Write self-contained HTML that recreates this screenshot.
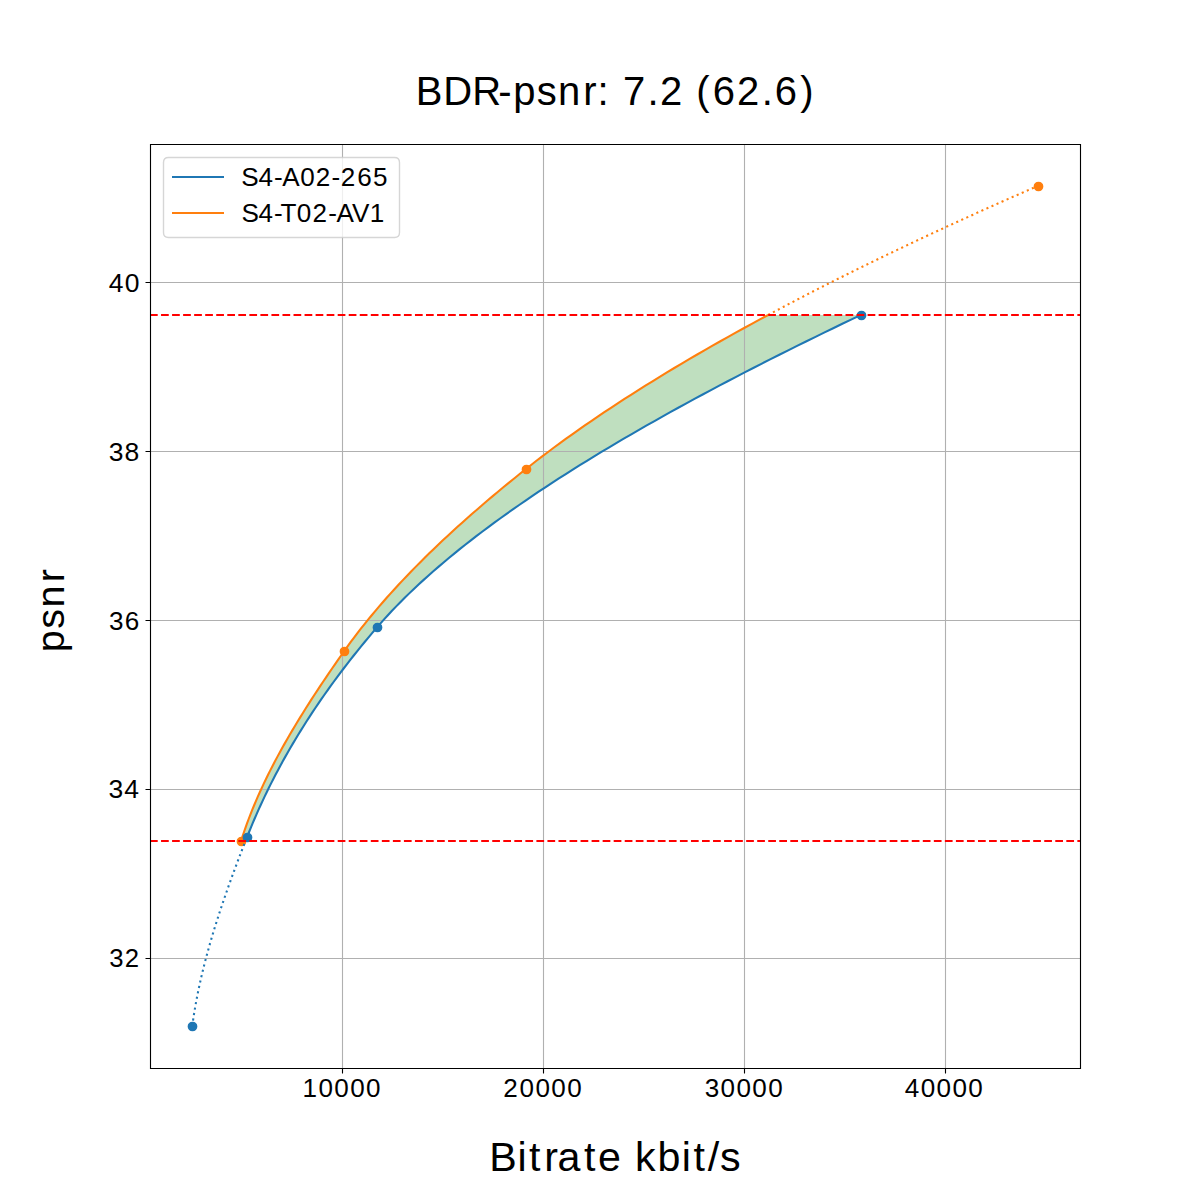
<!DOCTYPE html>
<html><head><meta charset="utf-8"><title>BDR-psnr</title><style>html,body{margin:0;padding:0;background:#fff;width:1200px;height:1200px;overflow:hidden}svg{display:block}text{font-family:"Liberation Sans",sans-serif;fill:#000}</style></head><body>
<svg width="1200" height="1200" viewBox="0 0 1200 1200">
<defs><clipPath id="ax"><rect x="150" y="144" width="930" height="924"/></clipPath></defs>
<rect x="0" y="0" width="1200" height="1200" fill="#fff"/>
<g clip-path="url(#ax)">
<path d="M245.57 840.84 L247.3 836.42 L249.06 832.01 L250.86 827.59 L252.7 823.17 L254.58 818.75 L256.5 814.33 L258.46 809.91 L260.46 805.49 L262.51 801.07 L264.59 796.65 L266.72 792.23 L268.88 787.81 L271.09 783.4 L273.34 778.98 L275.63 774.56 L277.97 770.14 L280.34 765.72 L282.76 761.3 L285.22 756.88 L287.73 752.46 L290.27 748.04 L292.86 743.62 L295.49 739.2 L298.17 734.79 L300.89 730.37 L303.65 725.95 L306.46 721.53 L309.31 717.11 L312.21 712.69 L315.15 708.27 L318.13 703.85 L321.16 699.43 L324.24 695.01 L327.36 690.59 L330.52 686.18 L333.73 681.76 L336.99 677.34 L340.29 672.92 L343.64 668.5 L347.03 664.08 L350.47 659.66 L353.95 655.24 L357.49 650.82 L361.07 646.4 L364.69 641.98 L368.36 637.56 L372.08 633.15 L375.85 628.73 L379.68 624.31 L383.6 619.89 L387.63 615.47 L391.75 611.05 L395.98 606.63 L400.3 602.21 L404.73 597.79 L409.25 593.37 L413.87 588.95 L418.58 584.54 L423.39 580.12 L428.3 575.7 L433.3 571.28 L438.4 566.86 L443.58 562.44 L448.86 558.02 L454.23 553.6 L459.7 549.18 L465.25 544.76 L470.89 540.34 L476.62 535.93 L482.44 531.51 L488.35 527.09 L494.34 522.67 L500.42 518.25 L506.58 513.83 L512.83 509.41 L519.16 504.99 L525.58 500.57 L532.07 496.15 L538.65 491.73 L545.32 487.31 L552.06 482.9 L558.88 478.48 L565.78 474.06 L572.75 469.64 L579.81 465.22 L586.94 460.8 L594.15 456.38 L601.44 451.96 L608.79 447.54 L616.23 443.12 L623.73 438.7 L631.31 434.29 L638.96 429.87 L646.69 425.45 L654.48 421.03 L662.34 416.61 L670.27 412.19 L678.27 407.77 L686.34 403.35 L694.47 398.93 L702.68 394.51 L710.94 390.09 L719.27 385.68 L727.67 381.26 L736.13 376.84 L744.65 372.42 L753.24 368 L761.88 363.58 L770.59 359.16 L779.36 354.74 L788.18 350.32 L797.07 345.9 L806.01 341.48 L815.01 337.06 L824.06 332.65 L833.18 328.23 L842.34 323.81 L851.57 319.39 L860.84 314.97 L768.14 314.97 L759.92 319.39 L751.77 323.81 L743.69 328.23 L735.69 332.65 L727.76 337.06 L719.9 341.48 L712.11 345.9 L704.4 350.32 L696.76 354.74 L689.19 359.16 L681.7 363.58 L674.28 368 L666.94 372.42 L659.68 376.84 L652.49 381.26 L645.37 385.68 L638.34 390.09 L631.38 394.51 L624.49 398.93 L617.69 403.35 L610.96 407.77 L604.31 412.19 L597.74 416.61 L591.25 421.03 L584.84 425.45 L578.51 429.87 L572.26 434.29 L566.08 438.7 L559.99 443.12 L553.98 447.54 L548.06 451.96 L542.21 456.38 L536.45 460.8 L530.77 465.22 L525.17 469.64 L519.63 474.06 L514.15 478.48 L508.71 482.9 L503.32 487.31 L497.99 491.73 L492.71 496.15 L487.48 500.57 L482.3 504.99 L477.18 509.41 L472.11 513.83 L467.09 518.25 L462.13 522.67 L457.23 527.09 L452.38 531.51 L447.59 535.93 L442.85 540.34 L438.17 544.76 L433.55 549.18 L428.99 553.6 L424.49 558.02 L420.05 562.44 L415.66 566.86 L411.34 571.28 L407.08 575.7 L402.87 580.12 L398.73 584.54 L394.66 588.95 L390.64 593.37 L386.69 597.79 L382.8 602.21 L378.98 606.63 L375.22 611.05 L371.53 615.47 L367.9 619.89 L364.34 624.31 L360.85 628.73 L357.42 633.15 L354.06 637.56 L350.77 641.98 L347.55 646.4 L344.39 650.82 L341.29 655.24 L338.2 659.66 L335.13 664.08 L332.09 668.5 L329.07 672.92 L326.07 677.34 L323.09 681.76 L320.15 686.18 L317.23 690.59 L314.33 695.01 L311.47 699.43 L308.64 703.85 L305.83 708.27 L303.06 712.69 L300.32 717.11 L297.62 721.53 L294.95 725.95 L292.32 730.37 L289.72 734.79 L287.16 739.2 L284.64 743.62 L282.16 748.04 L279.73 752.46 L277.33 756.88 L274.98 761.3 L272.67 765.72 L270.4 770.14 L268.19 774.56 L266.01 778.98 L263.89 783.4 L261.82 787.81 L259.8 792.23 L257.82 796.65 L255.9 801.07 L254.04 805.49 L252.22 809.91 L250.47 814.33 L248.77 818.75 L247.12 823.17 L245.54 827.59 L244.01 832.01 L242.55 836.42 L241.14 840.84 Z" fill="#008000" fill-opacity="0.25"/>
<path d="M342.5 144V1068 M543.5 144V1068 M744.5 144V1068 M945.5 144V1068 M150 958.5H1080 M150 789.5H1080 M150 620.5H1080 M150 451.5H1080 M150 282.5H1080" stroke="#b0b0b0" stroke-width="1.11" fill="none"/>
<path d="M245.57 840.84 L247.3 836.42 L249.06 832.01 L250.86 827.59 L252.7 823.17 L254.58 818.75 L256.5 814.33 L258.46 809.91 L260.46 805.49 L262.51 801.07 L264.59 796.65 L266.72 792.23 L268.88 787.81 L271.09 783.4 L273.34 778.98 L275.63 774.56 L277.97 770.14 L280.34 765.72 L282.76 761.3 L285.22 756.88 L287.73 752.46 L290.27 748.04 L292.86 743.62 L295.49 739.2 L298.17 734.79 L300.89 730.37 L303.65 725.95 L306.46 721.53 L309.31 717.11 L312.21 712.69 L315.15 708.27 L318.13 703.85 L321.16 699.43 L324.24 695.01 L327.36 690.59 L330.52 686.18 L333.73 681.76 L336.99 677.34 L340.29 672.92 L343.64 668.5 L347.03 664.08 L350.47 659.66 L353.95 655.24 L357.49 650.82 L361.07 646.4 L364.69 641.98 L368.36 637.56 L372.08 633.15 L375.85 628.73 L379.68 624.31 L383.6 619.89 L387.63 615.47 L391.75 611.05 L395.98 606.63 L400.3 602.21 L404.73 597.79 L409.25 593.37 L413.87 588.95 L418.58 584.54 L423.39 580.12 L428.3 575.7 L433.3 571.28 L438.4 566.86 L443.58 562.44 L448.86 558.02 L454.23 553.6 L459.7 549.18 L465.25 544.76 L470.89 540.34 L476.62 535.93 L482.44 531.51 L488.35 527.09 L494.34 522.67 L500.42 518.25 L506.58 513.83 L512.83 509.41 L519.16 504.99 L525.58 500.57 L532.07 496.15 L538.65 491.73 L545.32 487.31 L552.06 482.9 L558.88 478.48 L565.78 474.06 L572.75 469.64 L579.81 465.22 L586.94 460.8 L594.15 456.38 L601.44 451.96 L608.79 447.54 L616.23 443.12 L623.73 438.7 L631.31 434.29 L638.96 429.87 L646.69 425.45 L654.48 421.03 L662.34 416.61 L670.27 412.19 L678.27 407.77 L686.34 403.35 L694.47 398.93 L702.68 394.51 L710.94 390.09 L719.27 385.68 L727.67 381.26 L736.13 376.84 L744.65 372.42 L753.24 368 L761.88 363.58 L770.59 359.16 L779.36 354.74 L788.18 350.32 L797.07 345.9 L806.01 341.48 L815.01 337.06 L824.06 332.65 L833.18 328.23 L842.34 323.81 L851.57 319.39 L860.84 314.97" stroke="#1f77b4" stroke-width="2.08" fill="none" stroke-linejoin="round"/>
<path d="M241.14 840.84 L242.55 836.42 L244.01 832.01 L245.54 827.59 L247.12 823.17 L248.77 818.75 L250.47 814.33 L252.22 809.91 L254.04 805.49 L255.9 801.07 L257.82 796.65 L259.8 792.23 L261.82 787.81 L263.89 783.4 L266.01 778.98 L268.19 774.56 L270.4 770.14 L272.67 765.72 L274.98 761.3 L277.33 756.88 L279.73 752.46 L282.16 748.04 L284.64 743.62 L287.16 739.2 L289.72 734.79 L292.32 730.37 L294.95 725.95 L297.62 721.53 L300.32 717.11 L303.06 712.69 L305.83 708.27 L308.64 703.85 L311.47 699.43 L314.33 695.01 L317.23 690.59 L320.15 686.18 L323.09 681.76 L326.07 677.34 L329.07 672.92 L332.09 668.5 L335.13 664.08 L338.2 659.66 L341.29 655.24 L344.39 650.82 L347.55 646.4 L350.77 641.98 L354.06 637.56 L357.42 633.15 L360.85 628.73 L364.34 624.31 L367.9 619.89 L371.53 615.47 L375.22 611.05 L378.98 606.63 L382.8 602.21 L386.69 597.79 L390.64 593.37 L394.66 588.95 L398.73 584.54 L402.87 580.12 L407.08 575.7 L411.34 571.28 L415.66 566.86 L420.05 562.44 L424.49 558.02 L428.99 553.6 L433.55 549.18 L438.17 544.76 L442.85 540.34 L447.59 535.93 L452.38 531.51 L457.23 527.09 L462.13 522.67 L467.09 518.25 L472.11 513.83 L477.18 509.41 L482.3 504.99 L487.48 500.57 L492.71 496.15 L497.99 491.73 L503.32 487.31 L508.71 482.9 L514.15 478.48 L519.63 474.06 L525.17 469.64 L530.77 465.22 L536.45 460.8 L542.21 456.38 L548.06 451.96 L553.98 447.54 L559.99 443.12 L566.08 438.7 L572.26 434.29 L578.51 429.87 L584.84 425.45 L591.25 421.03 L597.74 416.61 L604.31 412.19 L610.96 407.77 L617.69 403.35 L624.49 398.93 L631.38 394.51 L638.34 390.09 L645.37 385.68 L652.49 381.26 L659.68 376.84 L666.94 372.42 L674.28 368 L681.7 363.58 L689.19 359.16 L696.76 354.74 L704.4 350.32 L712.11 345.9 L719.9 341.48 L727.76 337.06 L735.69 332.65 L743.69 328.23 L751.77 323.81 L759.92 319.39 L768.14 314.97" stroke="#ff7f0e" stroke-width="2.08" fill="none" stroke-linejoin="round"/>
<circle cx="241.5" cy="841.5" r="4.17" fill="#ff7f0e" stroke="#ff7f0e" stroke-width="1.39"/>
<circle cx="344.5" cy="651.5" r="4.17" fill="#ff7f0e" stroke="#ff7f0e" stroke-width="1.39"/>
<circle cx="526.5" cy="469.5" r="4.17" fill="#ff7f0e" stroke="#ff7f0e" stroke-width="1.39"/>
<circle cx="1038.5" cy="186.5" r="4.17" fill="#ff7f0e" stroke="#ff7f0e" stroke-width="1.39"/>
<circle cx="192.5" cy="1026.5" r="4.17" fill="#1f77b4" stroke="#1f77b4" stroke-width="1.39"/>
<circle cx="247.5" cy="837.5" r="4.17" fill="#1f77b4" stroke="#1f77b4" stroke-width="1.39"/>
<circle cx="377.5" cy="627.5" r="4.17" fill="#1f77b4" stroke="#1f77b4" stroke-width="1.39"/>
<circle cx="861.5" cy="315.5" r="4.17" fill="#1f77b4" stroke="#1f77b4" stroke-width="1.39"/>
<path d="M192.27 1026 L192.79 1022.22 L193.34 1018.44 L193.93 1014.66 L194.54 1010.89 L195.18 1007.11 L195.85 1003.33 L196.55 999.55 L197.28 995.77 L198.04 991.99 L198.82 988.21 L199.63 984.43 L200.47 980.66 L201.33 976.88 L202.22 973.1 L203.14 969.32 L204.07 965.54 L205.04 961.76 L206.02 957.98 L207.03 954.2 L208.06 950.43 L209.12 946.65 L210.19 942.87 L211.29 939.09 L212.4 935.31 L213.54 931.53 L214.69 927.75 L215.87 923.98 L217.06 920.2 L218.28 916.42 L219.5 912.64 L220.75 908.86 L222.01 905.08 L223.29 901.3 L224.59 897.52 L225.9 893.75 L227.23 889.97 L228.56 886.19 L229.92 882.41 L231.28 878.63 L232.66 874.85 L234.05 871.07 L235.46 867.29 L236.87 863.52 L238.3 859.74 L239.73 855.96 L241.18 852.18 L242.63 848.4 L244.1 844.62 L245.57 840.84" stroke="#1f77b4" stroke-width="2.08" fill="none" stroke-dasharray="2.08 3.44" stroke-linejoin="round"/>
<path d="M768.14 314.97 L773.06 312.34 L778.02 309.71 L783 307.07 L788 304.44 L793.03 301.81 L798.08 299.18 L803.16 296.55 L808.27 293.91 L813.39 291.28 L818.54 288.65 L823.72 286.02 L828.92 283.38 L834.15 280.75 L839.39 278.12 L844.67 275.49 L849.96 272.86 L855.28 270.22 L860.63 267.59 L866 264.96 L871.39 262.33 L876.81 259.7 L882.24 257.06 L887.71 254.43 L893.19 251.8 L898.7 249.17 L904.24 246.54 L909.79 243.9 L915.37 241.27 L920.97 238.64 L926.6 236.01 L932.24 233.38 L937.92 230.74 L943.61 228.11 L949.32 225.48 L955.06 222.85 L960.82 220.22 L966.61 217.58 L972.41 214.95 L978.24 212.32 L984.09 209.69 L989.96 207.06 L995.86 204.42 L1001.77 201.79 L1007.71 199.16 L1013.67 196.53 L1019.65 193.9 L1025.66 191.26 L1031.68 188.63 L1037.73 186" stroke="#ff7f0e" stroke-width="2.08" fill="none" stroke-dasharray="2.08 3.44" stroke-linejoin="round"/>
<path d="M150 841H1080" stroke="#ff0000" stroke-width="2.08" stroke-dasharray="7.71 3.33"/>
<path d="M150 315H1080" stroke="#ff0000" stroke-width="2.08" stroke-dasharray="7.71 3.33"/>
</g>
<path d="M150.5 144.5H1080.5M150.5 1068.5H1080.5M150.5 144.5V1068.5M1080.5 144.5V1068.5" stroke="#000" stroke-width="1.11" fill="none" stroke-linecap="square"/>
<path d="M342.5 1068.5V1073.5 M543.5 1068.5V1073.5 M744.5 1068.5V1073.5 M945.5 1068.5V1073.5 M150.5 958.5H145.5 M150.5 789.5H145.5 M150.5 620.5H145.5 M150.5 451.5H145.5 M150.5 282.5H145.5" stroke="#000" stroke-width="1.11" fill="none"/>
<text x="302.43 318.43 334.31 350.18 366.06" y="1096.5" font-size="26.09">10000</text>
<text x="503.19 519.52 535.39 551.27 567.14" y="1096.5" font-size="26.09">20000</text>
<text x="704.76 720.61 736.48 752.36 768.23" y="1096.5" font-size="26.09">30000</text>
<text x="904.69 920.7 936.57 952.45 968.32" y="1096.5" font-size="26.09">40000</text>
<text x="109.18 124.7" y="966.5" font-size="25.7">32</text>
<text x="108.44 124.28" y="797.5" font-size="26.49">34</text>
<text x="108.92 124.76" y="629.5" font-size="26.09">36</text>
<text x="108.63 124.47" y="460.5" font-size="26.49">38</text>
<text x="108.72 124.72" y="291.5" font-size="26.49">40</text>
<text x="415.78 443.19 472.17 498.19 513.31 536.86 557.99 583.31 597.58 609.58 623.12 647.44 659.94 683.95 696.25 712.7 737.06 761.69 774.7 800.27" y="104.5" font-size="39.97">BDR-psnr: 7.2 (62.6)</text>
<text x="489.35 517.42 529.12 544.33 557.44 584.12 598.04 621.45 635.08 657.45 681.8 693.5 707.65 720.06" y="1170.5" font-size="41.21">Bitrate kbit/s</text>
<path d="M168.5 157.5H394.5Q399.5 157.5 399.5 162.5V232.5Q399.5 237.5 394.5 237.5H168.5Q163.5 237.5 163.5 232.5V162.5Q163.5 157.5 168.5 157.5Z" fill="#fff" fill-opacity="0.8" stroke="#cccccc" stroke-opacity="0.8" stroke-width="1.39"/>
<path d="M172 177H224" stroke="#1f77b4" stroke-width="2.08"/>
<path d="M172 213H224" stroke="#ff7f0e" stroke-width="2.08"/>
<text x="241.21 258.4 273.88 282.18 300.15 315.7 331.5 340.82 357.16 373.06" y="185.5" font-size="26.09">S4-A02-265</text>
<text x="241.39 258.59 274.07 280.45 296.84 312.39 328.19 336.49 351.99 369.84" y="221.5" font-size="26.09">S4-T02-AV1</text>
<text transform="translate(64.25 653.79) rotate(-90)" x="1.6 25.13 46.28 71.56" y="0" font-size="39.56">psnr</text>
</svg></body></html>
